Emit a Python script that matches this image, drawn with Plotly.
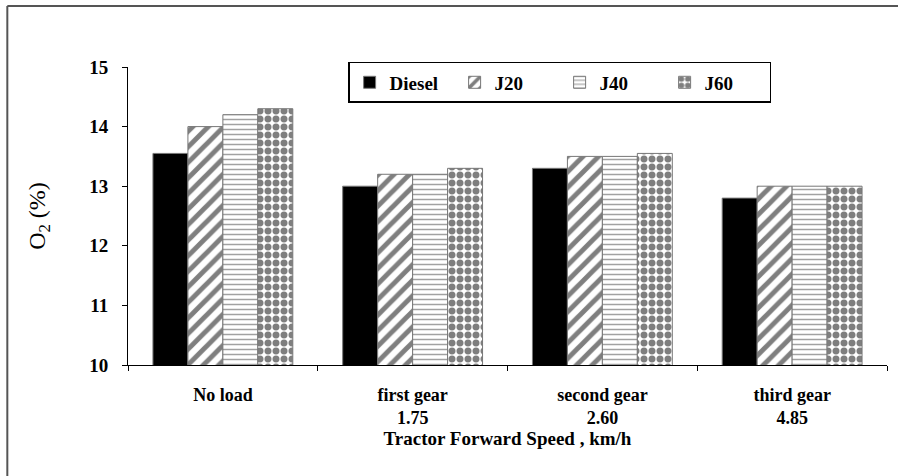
import plotly.graph_objects as go

categories = ["No load", "first gear<br>1.75", "second gear<br>2.60", "third gear<br>4.85"]
diesel = [13.55, 13.0, 13.3, 12.8]
j20 = [14.0, 13.2, 13.5, 13.0]
j40 = [14.2, 13.2, 13.5, 13.0]
j60 = [14.3, 13.3, 13.55, 13.0]

font_family = "Liberation Serif, Times New Roman, serif"

series = [
    ("Diesel", diesel, dict(shape="", bgcolor="black")),
    ("J20", j20, dict(shape="/", fgcolor="black", bgcolor="white", size=11, solidity=0.45)),
    ("J40", j40, dict(shape="-", fgcolor="#444444", bgcolor="white", size=5, solidity=0.3)),
    ("J60", j60, dict(shape=".", fgcolor="black", bgcolor="white", size=8, solidity=0.6)),
]

fig = go.Figure()
for name, vals, pat in series:
    fig.add_trace(go.Bar(
        x=categories, y=vals, name=name,
        marker=dict(color="black" if name == "Diesel" else "white",
                    pattern=pat,
                    line=dict(color="#777777", width=1)),
    ))

fig.update_layout(
    width=898, height=476,
    margin=dict(l=128, r=11, t=67, b=111),
    paper_bgcolor="white", plot_bgcolor="white",
    barmode="group", bargap=0.263, bargroupgap=0,
    font=dict(family=font_family, color="black"),
    legend=dict(
        orientation="h", x=0.29, y=1.017, xanchor="left", yanchor="top",
        bordercolor="black", borderwidth=1.5, bgcolor="white",
        font=dict(size=19, weight="bold"),
        entrywidth=60, itemwidth=30,
    ),
    showlegend=True,
)

fig.update_yaxes(
    range=[10, 15], dtick=1, showgrid=False, zeroline=False, automargin=False,
    showline=True, linecolor="black", linewidth=1,
    ticks="outside", ticklen=5, tickcolor="black",
    tickfont=dict(size=19, weight="bold"), ticklabelstandoff=10,
    title=dict(text="O<sub>2</sub> (%)", font=dict(size=24), standoff=36),
)
fig.update_xaxes(
    showgrid=False, showline=True, linecolor="black", linewidth=1, automargin=False,
    ticks="outside", ticklen=5, tickcolor="black", tickson="boundaries",
    tickfont=dict(size=18, weight="bold"), ticklabelstandoff=13,
    title=dict(text="Tractor Forward Speed , km/h", font=dict(size=19, weight="bold"), standoff=2),
)

# outer frame (top and left edges visible in the reference)
fig.add_shape(type="line", xref="paper", yref="paper",
              x0=-0.159, x1=1.1, y0=1.205, y1=1.205,
              line=dict(color="#555555", width=2))
fig.add_shape(type="line", xref="paper", yref="paper",
              x0=-0.159, x1=-0.159, y0=1.205, y1=-0.4,
              line=dict(color="#555555", width=2))

fig.write_html("out.html", config={"displayModeBar": False},
               post_script="document.body.style.margin='0';")
